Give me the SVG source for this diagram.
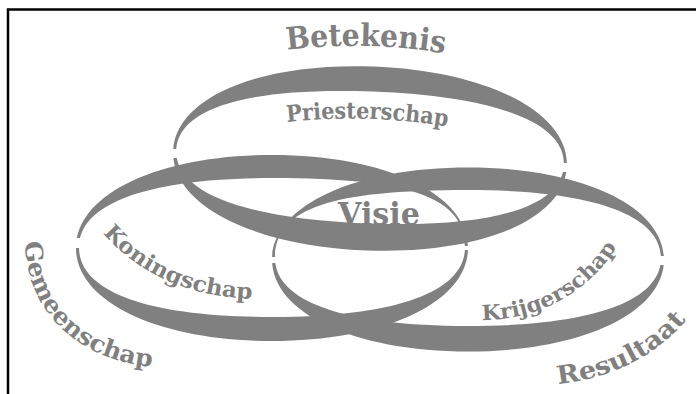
<svg xmlns="http://www.w3.org/2000/svg" xmlns:xlink="http://www.w3.org/1999/xlink" width="696" height="394" viewBox="0 0 696 394">
<style>
.ring{fill:#808080;fill-rule:evenodd;stroke:none}
.cut{fill:#fff;stroke:none}
.lbl{font-family:"DejaVu Serif","Liberation Serif",serif;font-weight:bold;fill:#808080}
.frame{stroke:#000;stroke-width:2.5;fill:none}
</style>
<defs>
<path id="pBet" d="M287,50 Q367,40 448,54"/>
<path id="pPri" d="M287,122 Q367,113 451,127"/>
<path id="pKon" d="M103,233 C135,270 185,298 258,299"/>
<path id="pGem" d="M25,242 C27,314 80,364 165,368"/>
<path id="pKri" d="M482,320 C530,320 585,300 620,242"/>
<path id="pRes" d="M558,384 Q640,375 688,318"/>
</defs>
<g id="frame">
<path class="frame" d="M8,394 V9.5 H696"/>
</g>
<g id="ring-priesterschap">
<path class="ring" transform="rotate(2.2 370 158.5)" d="M173,158.5 C173,105.1 255.7,66.5 370,66.5 C484.3,66.5 567,105.1 567,158.5 C567,211.9 484.3,250.5 370,250.5 C255.7,250.5 173,211.9 173,158.5 Z M176,157.5 C176,115.3 245.8,91.5 370,91.5 C494.2,91.5 564,115.3 564,157.5 C564,199.7 494.2,223.5 370,223.5 C245.8,223.5 176,199.7 176,157.5 Z"/>
<rect class="cut" x="166" y="149" width="18" height="9"/>
<rect class="cut" x="557" y="163" width="18" height="9"/>
</g>
<g id="ring-koningschap">
<path class="ring" d="M76,248 C76,194.1 158.3,155 272,155 C385.7,155 468,194.1 468,248 C468,301.9 385.7,341 272,341 C158.3,341 76,301.9 76,248 Z M79,247.5 C79,203 148.5,178 272,178 C411,178 465,197.5 465,247.5 C465,292 395.5,317 272,317 C148.5,317 79,292 79,247.5 Z"/>
<rect class="cut" x="68" y="238" width="20" height="10"/>
<rect class="cut" x="458" y="246" width="16" height="4"/>
</g>
<g id="ring-krijgerschap">
<path class="ring" d="M272,259.5 C272,206.1 354.3,167.5 468,167.5 C581.7,167.5 664,206.1 664,259.5 C664,312.9 581.7,351.5 468,351.5 C354.3,351.5 272,312.9 272,259.5 Z M275,258 C275,209 329,190 468,190 C591.5,190 661,214.5 661,258 C661,301.5 591.5,326 468,326 C344.5,326 275,301.5 275,258 Z"/>
<rect class="cut" x="265" y="257" width="16" height="6"/>
<rect class="cut" x="654" y="256" width="18" height="9"/>
</g>
<g id="labels">
<text class="lbl" font-size="31"><textPath xlink:href="#pBet" href="#pBet" textLength="158" lengthAdjust="spacingAndGlyphs">Betekenis</textPath></text>
<text class="lbl" font-size="23"><textPath xlink:href="#pPri" href="#pPri" textLength="161" lengthAdjust="spacingAndGlyphs">Priesterschap</textPath></text>
<text class="lbl" font-size="31" x="338" y="225" textLength="82" lengthAdjust="spacingAndGlyphs">Visie</text>
<text class="lbl" font-size="22"><textPath xlink:href="#pKon" href="#pKon" textLength="168" lengthAdjust="spacingAndGlyphs">Koningschap</textPath></text>
<text class="lbl" font-size="24"><textPath xlink:href="#pGem" href="#pGem" textLength="196" lengthAdjust="spacingAndGlyphs">Gemeenschap</textPath></text>
<text class="lbl" font-size="21"><textPath xlink:href="#pKri" href="#pKri" textLength="160" lengthAdjust="spacingAndGlyphs">Krijgerschap</textPath></text>
<text class="lbl" font-size="25"><textPath xlink:href="#pRes" href="#pRes" textLength="147" lengthAdjust="spacingAndGlyphs">Resultaat</textPath></text>
</g>
</svg>
